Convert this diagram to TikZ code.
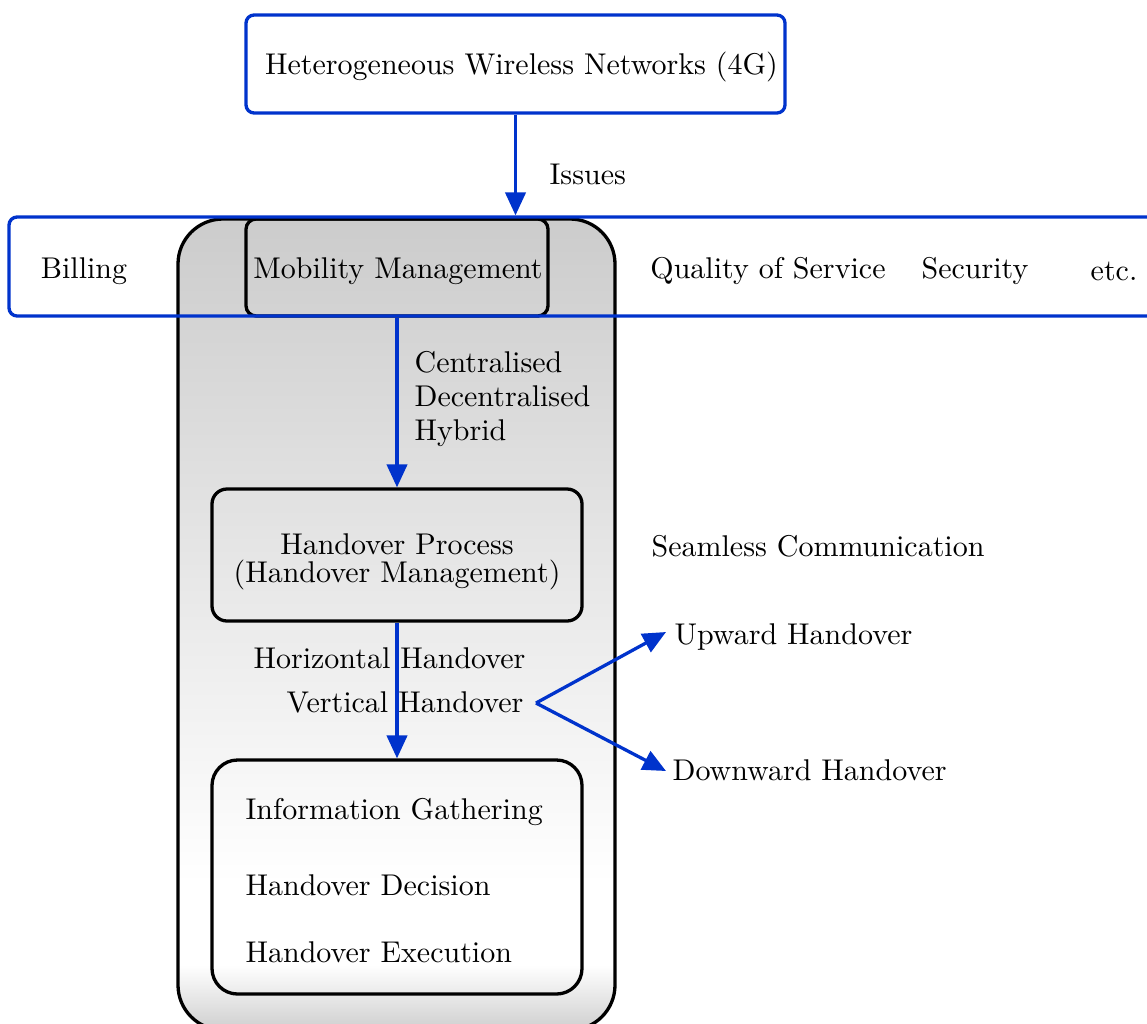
\documentclass[tikz,border=0pt]{standalone}
\usetikzlibrary{fit,arrows.meta}
\definecolor{netblue}{RGB}{0,51,204}
% light-grey backdrop: grey at top, fading to white near the bottom, then grey again
\pgfdeclareverticalshading{mmshade}{100bp}{color(0bp)=(gray!38); color(25bp)=(gray!38); color(29bp)=(white); color(34bp)=(white); color(75bp)=(gray!40); color(100bp)=(gray!40)}
\tikzset{
  bluebox/.style={draw=netblue, line width=1.1pt, rounded corners=2.7pt, inner sep=0pt},
  blackbox/.style={draw=black, line width=1.1pt, inner sep=0pt},
  bluearrow/.style={draw=netblue, line width=1.1pt, -{Triangle[length=7.7pt,width=6.8pt]}},
  txt/.style={inner sep=0pt, font=\fontsize{10}{12}\selectfont},
}
\begin{document}
\begin{tikzpicture}[x=0.3333pt, y=-0.3333pt]
\useasboundingbox (0,0) rectangle (1147,1023);

% grey area holding the mobility-management chain
\node[blackbox, rounded corners=15pt, shading=mmshade, fit={(178,219)(615,1030)}] (area) {};

% boxes inside the grey area
\node[blackbox, rounded corners=3.4pt, fit={(246,219)(548,316)}] (mm) {};
\node[txt] (mmtext) at ([shift={(1,4)}]mm.center) {Mobility Management};
\node[blackbox, rounded corners=5pt, fit={(212,489)(582,621)}] (hp) {};
\node[txt, align=center] (hptext) at (397,562) {Handover Process\\[-2.6pt](Handover Management)};
\node[blackbox, rounded corners=8.5pt, fit={(212,760)(582,994)}] (info) {};
\node[txt, anchor=west] (gather) at (245,812) {Information Gathering};
\node[txt, anchor=west] (decide) at (245,885) {Handover Decision};
\node[txt, anchor=west] (execute) at (245,952) {Handover Execution};

% top network box
\node[bluebox, fit={(246,15)(785,113)}] (hwn) {};
\node[txt] (hwntext) at ([shift={(6,3)}]hwn.center) {Heterogeneous Wireless Networks (4G)};

% issues strip (runs past the right edge)
\node[bluebox, fit={(9,217)(1170,316)}] (issues) {};
\node[txt] (billing) at (84,271) {Billing};
\node[txt] (qos) at (768,271) {Quality of Service};
\node[txt] (security) at (975,271) {Security};
\node[txt] (etc) at (1114,271) {etc.};

% free-standing labels
\node[txt, anchor=west] (issuelbl) at (549,174) {Issues};
\node[txt, anchor=west, align=left, font=\fontsize{10}{11.4}\selectfont] (schemes) at (414,399) {Centralised\\Decentralised\\Hybrid};
\node[txt, anchor=west] (seamless) at (651,546) {Seamless Communication};
\node[txt] (horiz) at (389.5,658) {Horizontal Handover};
\node[txt, anchor=east] (vert) at (524,702) {Vertical Handover};
\node[txt, anchor=west] (up) at (674,637) {Upward Handover};
\node[txt, anchor=west] (down) at (672,770) {Downward Handover};
\coordinate (fork) at (536,703);
\coordinate (uptip) at (666,632);
\coordinate (downtip) at (666,771);

% connectors
\draw[bluearrow] (hwn.south) -- (hwn.south |- issues.north);
\draw[bluearrow] (mm.south) -- (hp.north);
\draw[bluearrow] (hp.south) -- (info.north);
\draw[bluearrow] (fork) -- (uptip);
\draw[bluearrow] (fork) -- (downtip);
\end{tikzpicture}
\end{document}
